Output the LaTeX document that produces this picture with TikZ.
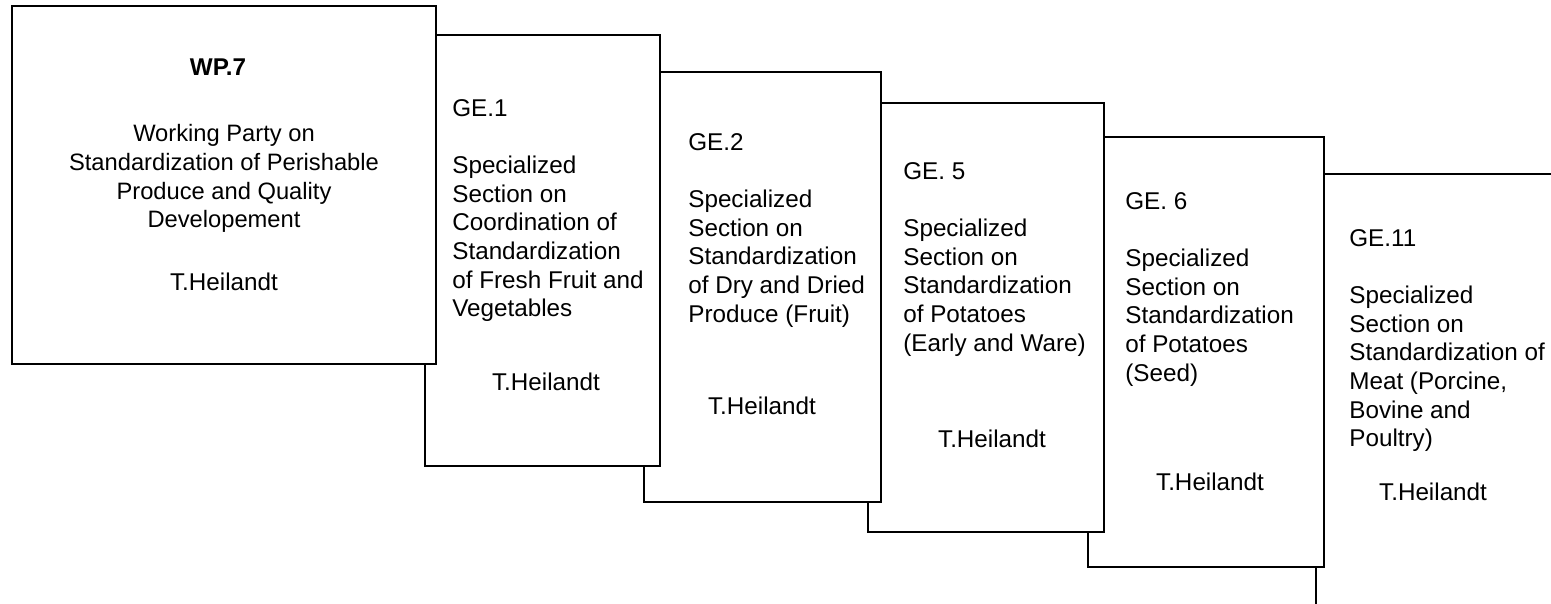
\documentclass[tikz,border=0pt]{standalone}
\usepackage{fontspec}
\setmainfont{Liberation Sans}

\tikzset{
  card/.style={draw, line width=1pt, fill=white},
  cardtext/.style={anchor=north west, inner sep=0pt, align=left},
  chair/.style={anchor=north, inner sep=0pt, align=center}
}

\begin{document}
\begin{tikzpicture}[x=0.02cm, y=-0.02cm, font=\fontsize{13.8}{16.3}\selectfont]
  \useasboundingbox (0,0) rectangle (1551,603);
  \clip (0,0) rectangle (1551,603);

%back card first, each one covers the one behind
\draw[card] (1316,174) rectangle (1600,650);
\node (ge11) [cardtext] at (1349,229) {GE.11\\[16.3pt]Specialized\\Section on\\Standardization of\\Meat (Porcine,\\Bovine and\\Poultry)};
\node (ge11head) [chair] at (1433,483) {T.Heilandt};

\draw[card] (1088,137) rectangle (1324,567);
\node (ge6) [cardtext] at (1125,192) {GE. 6\\[16.3pt]Specialized\\Section on\\Standardization\\of Potatoes\\(Seed)};
\node (ge6head) [chair] at (1210,473) {T.Heilandt};

\draw[card] (868,103) rectangle (1104,532);
\node (ge5) [cardtext] at (903,162) {GE. 5\\[16.3pt]Specialized\\Section on\\Standardization\\of Potatoes\\(Early and Ware)};
\node (ge5head) [chair] at (992,430) {T.Heilandt};

\draw[card] (644,72) rectangle (881,502);
\node (ge2) [cardtext] at (688,133) {GE.2\\[16.3pt]Specialized\\Section on\\Standardization\\of Dry and Dried\\Produce (Fruit)};
\node (ge2head) [chair] at (762,397) {T.Heilandt};

\draw[card] (425,35) rectangle (660,466);
\node (ge1) [cardtext] at (452,99) {GE.1\\[16.3pt]Specialized\\Section on\\Coordination of\\Standardization\\of Fresh Fruit and\\Vegetables};
\node (ge1head) [chair] at (546,373) {T.Heilandt};

%front card
\draw[card] (12,6) rectangle (436,364);
\node (wp7) [chair] at (218,58) {\bfseries WP.7};
\node (wp7name) [chair, font=\fontsize{13.5}{16.4}\selectfont] at (224,124) {Working Party on\\Standardization of Perishable\\Produce and Quality\\Developement};
\node (wp7head) [chair] at (224,273) {T.Heilandt};

\end{tikzpicture}
\end{document}
